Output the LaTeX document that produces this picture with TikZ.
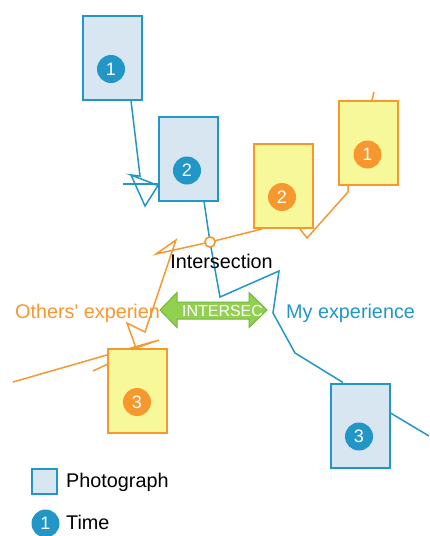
\documentclass[tikz,border=0pt]{standalone}
\usepackage{fontspec}
\newfontfamily\plainfont{Liberation Sans}
\setmainfont{Liberation Sans}
\usetikzlibrary{backgrounds}
\definecolor{myblue}{RGB}{33,150,199}
\definecolor{lblue}{RGB}{215,230,241}
\definecolor{myorange}{RGB}{247,152,46}
\definecolor{lyellow}{RGB}{247,248,154}
\definecolor{gfill}{RGB}{146,208,80}
\definecolor{gdraw}{RGB}{112,182,62}
\begin{document}
\begin{tikzpicture}[x=1pt,y=-1pt,
  blline/.style={draw=myblue,line width=1.5pt,line join=miter},
  orline/.style={draw=myorange,line width=1.5pt,line join=miter},
  photoB/.style={rectangle,draw=myblue,fill=lblue,line width=2pt,minimum width=59pt,minimum height=84pt,inner sep=0pt},
  photoO/.style={rectangle,draw=myorange,fill=lyellow,line width=2pt,minimum width=59pt,minimum height=84pt,inner sep=0pt},
  numB/.style={circle,fill=myblue,text=white,minimum size=28pt,inner sep=0pt,font=\plainfont\fontsize{18}{18}\selectfont},
  numO/.style={circle,fill=myorange,text=white,minimum size=28pt,inner sep=0pt,font=\plainfont\fontsize{18}{18}\selectfont},
  lbl/.style={inner sep=0pt,font=\plainfont\fontsize{19.8}{22}\selectfont},
]
\useasboundingbox (0,0) rectangle (429,536);

% photographs
\node[photoB] (b1) at (112,57.5) {};
\node[photoB] (b2) at (188,158.5) {};
\node[photoB] (b3) at (360,425.5) {};
\node[photoO] (o1) at (368,143) {};
\node[photoO] (o2) at (283,186) {};
\node[photoO] (o3) at (137,391) {};

% time circles
\node[numB] (t1) at (111,69) {1};
\node[numB] (t2) at (187,170.5) {2};
\node[numB] (t3) at (359,436.5) {3};
\node[numO] (u1) at (367.5,154.5) {1};
\node[numO] (u2) at (282,197) {2};
\node[numO] (u3) at (137,402) {3};

% intersection point
\node[circle,draw=myorange,fill=white,line width=1.5pt,minimum size=10pt,inner sep=0pt] (ix) at (210,242) {};

\coordinate (bend) at (429,436);
\coordinate (oleft) at (13,382);
\coordinate (otop) at (374,92);

\begin{scope}[on background layer]
  % my experience
  \draw[blline] ([xshift=19pt]b1.south) -- (140,176) -- (131,175) -- (158,185.5) -- (145,206) -- (131,175);
  \draw[blline] (123,184) -- ([yshift=-25.5pt]b2.west);
  \draw[blline] ([xshift=16pt]b2.south) -- (ix.center) -- (220,297) -- (279,271) -- (273,313) -- (295,353) -- ([xshift=-17pt]b3.north);
  \draw[blline] ([yshift=12.5pt]b3.east) -- (bend);
  % others' experience
  \draw[orline] ([xshift=4pt]o1.north) -- (otop);
  \draw[orline] ([xshift=-20pt]o1.south) -- (348,192) -- (307,238) -- (300,229);
  \draw[orline] ([xshift=-21pt]o2.south) -- (ix.center) -- (156,254) -- (176,240) -- (145,332) -- (127,323) -- ([xshift=-1pt]o3.north);
  \draw[orline] ([xshift=-1pt]o3.north) -- (159,340) -- (oleft);
  \draw[orline] (93,371) -- (112,362);
\end{scope}
\node[circle,draw=myorange,fill=white,line width=1.5pt,minimum size=10pt,inner sep=0pt] at (ix) {};

% labels
\node[lbl,anchor=base] (inter) at (221.5,268.3) {Intersection};
\node[lbl,anchor=base west,text=myorange] (others) at (15,318) {Others' experien};
\node[lbl,anchor=base west,text=myblue] (mine) at (286,318) {My experience};

% green double arrow
\draw[fill=gfill,draw=gdraw,line width=1pt,line join=miter]
  (160,310) -- (177,292.5) -- (177,302) -- (249,302) -- (249,292.5) -- (267,310)
  -- (249,327.5) -- (249,319) -- (177,319) -- (177,327.5) -- cycle;
\node[inner sep=0pt,anchor=base,text=white,font=\plainfont\fontsize{16}{16}\selectfont] (isec) at (222.5,316.5) {INTERSEC};

% legend
\node[rectangle,draw=myblue,fill=lblue,line width=2pt,minimum size=25pt,inner sep=0pt] (lgsq) at (44,481) {};
\node[lbl,anchor=base west] (lgph) at (66,487.3) {Photograph};
\node[numB] (lgc) at (45.5,523.5) {1};
\node[lbl,anchor=base west] (lgti) at (66,529.3) {Time};
\end{tikzpicture}
\end{document}
